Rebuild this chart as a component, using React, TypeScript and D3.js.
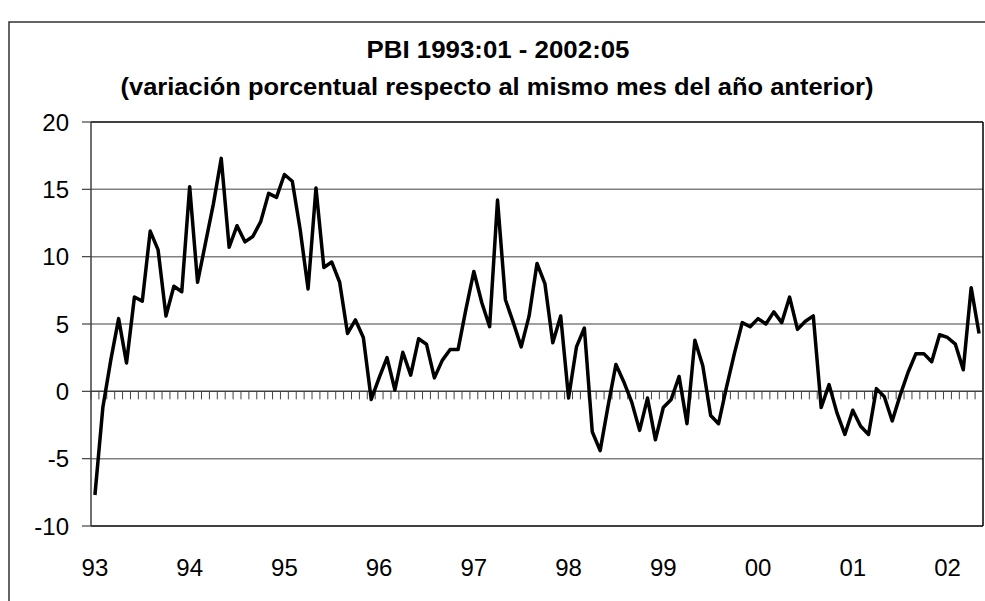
import * as d3 from 'd3';

const TITLE_1 = 'PBI 1993:01 - 2002:05';
const TITLE_2 = '(variación porcentual respecto al mismo mes del año anterior)';

// tick label for each January, 1993..2002
const yearLabels = ['93', '94', '95', '96', '97', '98', '99', '00', '01', '02'];

const yTicks = [-10, -5, 0, 5, 10, 15, 20];

// monthly % change, 1993:01 .. 2002:05
const pbi = [
  -7.7, -1.2, 2.3, 5.4, 2.1, 7.0, 6.7, 11.9, 10.5, 5.6, 7.8, 7.4,
  15.2, 8.1, 11.0, 13.9, 17.3, 10.7, 12.3, 11.1, 11.5, 12.6, 14.7, 14.4,
  16.1, 15.6, 12.0, 7.6, 15.1, 9.2, 9.6, 8.1, 4.3, 5.3, 4.0, -0.6,
  1.0, 2.5, 0.1, 2.9, 1.2, 3.9, 3.5, 1.0, 2.3, 3.1, 3.1, 6.1,
  8.9, 6.6, 4.8, 14.2, 6.8, 5.1, 3.3, 5.6, 9.5, 8.0, 3.6, 5.6,
  -0.5, 3.3, 4.7, -3.0, -4.4, -1.1, 2.0, 0.7, -0.8, -2.9, -0.5, -3.6,
  -1.2, -0.6, 1.1, -2.4, 3.8, 1.9, -1.8, -2.4, 0.3, 2.8, 5.1, 4.8,
  5.4, 5.0, 5.9, 5.1, 7.0, 4.6, 5.2, 5.6, -1.2, 0.5, -1.6, -3.2,
  -1.4, -2.6, -3.2, 0.2, -0.4, -2.2, -0.3, 1.4, 2.8, 2.8, 2.2, 4.2,
  4.0, 3.5, 1.6, 7.7, 4.3,
];

const W = 985;
const H = 601;
const plot = { left: 91, right: 983, top: 122, bottom: 526 };
const font = '"Liberation Sans", Arial, sans-serif';

export default function App() {
  const months = pbi.map((_, i) => i);

  const x = d3.scaleBand<number>()
    .domain(months)
    .range([plot.left, plot.right])
    .padding(0);
  const xEdge = d3.scaleLinear()
    .domain([0, pbi.length])
    .range([plot.left, plot.right]);
  const y = d3.scaleLinear()
    .domain([-10, 20])
    .range([plot.bottom, plot.top]);

  const cx = (i: number) => (x(i) ?? 0) + x.bandwidth() / 2;

  const line = d3.line<number>()
    .x((_, i) => cx(i))
    .y((d) => y(d));

  const y0 = y(0);
  const monthTicks = d3.range(0, pbi.length + 1);

  return (
    <svg
      width={W}
      height={H}
      style={{ position: 'absolute', left: 0, top: 0, background: '#fff' }}
      fontFamily={font}
    >
      {/* chart area border, right and bottom edges are off the picture */}
      <rect x={9} y={22} width={W + 20} height={H + 20} fill="#fff" stroke="#333" strokeWidth={1.5} />

      <text x={498} y={58} textAnchor="middle" fontSize={24} fontWeight="bold" textLength={263} lengthAdjust="spacingAndGlyphs">
        {TITLE_1}
      </text>
      <text x={497} y={95} textAnchor="middle" fontSize={24} fontWeight="bold" textLength={753} lengthAdjust="spacingAndGlyphs">
        {TITLE_2}
      </text>

      {/* gridlines */}
      {yTicks.filter((t) => t !== 0 && t !== 20 && t !== -10).map((t) => (
        <line key={t} x1={plot.left} x2={plot.right} y1={y(t)} y2={y(t)} stroke="#808080" strokeWidth={1.5} />
      ))}

      {/* plot frame */}
      <line x1={plot.left} x2={plot.right} y1={plot.top} y2={plot.top} stroke="#000" strokeWidth={1.5} />
      <line x1={plot.left} x2={plot.right} y1={plot.bottom} y2={plot.bottom} stroke="#000" strokeWidth={1.5} />
      <line x1={plot.right} x2={plot.right} y1={plot.top} y2={plot.bottom} stroke="#000" strokeWidth={1.5} />

      {/* y axis */}
      <line x1={plot.left} x2={plot.left} y1={plot.top} y2={plot.bottom} stroke="#404040" strokeWidth={1.5} />
      {yTicks.map((t) => (
        <g key={t}>
          <line x1={plot.left - 9} x2={plot.left} y1={y(t)} y2={y(t)} stroke="#404040" strokeWidth={1.2} />
          <text x={69} y={y(t)} dy="0.36em" textAnchor="end" fontSize={24}>{t}</text>
        </g>
      ))}

      {/* x axis at zero with monthly ticks */}
      <line x1={plot.left} x2={plot.right} y1={y0} y2={y0} stroke="#404040" strokeWidth={1.5} />
      {monthTicks.map((k) => (
        <line key={k} x1={xEdge(k)} x2={xEdge(k)} y1={y0} y2={y0 + 8} stroke="#444" strokeWidth={1} />
      ))}
      {yearLabels.map((lab, j) => (
        <text key={lab} x={cx(j * 12)} y={576} textAnchor="middle" fontSize={24}>{lab}</text>
      ))}

      <path d={line(pbi) ?? ''} fill="none" stroke="#000" strokeWidth={3.5} strokeLinejoin="round" />
    </svg>
  );
}
